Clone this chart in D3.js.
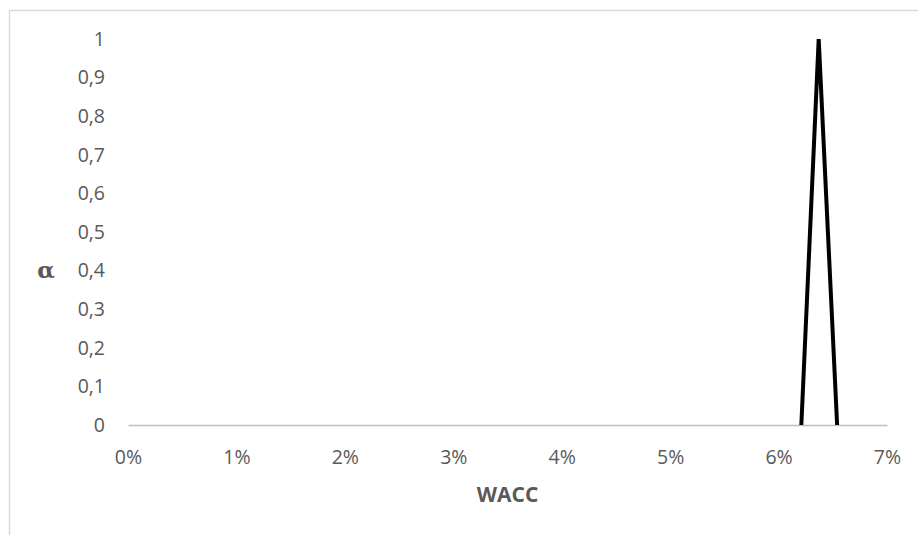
<!DOCTYPE html>
<html>
<head>
<meta charset="utf-8">
<script src="https://cdn.jsdelivr.net/npm/d3@7/dist/d3.min.js"></script>
<style>
  html, body { margin: 0; padding: 0; background: #ffffff; }
  svg { display: block; }
</style>
</head>
<body>
<svg id="chart" width="918" height="535"></svg>
<script>
// Membership function of WACC (triangular)
const waccValues = [0.0621, 0.0637, 0.0654];
const alphaValues = [0, 1, 0];

const xTicks = [0, 0.01, 0.02, 0.03, 0.04, 0.05, 0.06, 0.07];
const yTicks = [0, 0.1, 0.2, 0.3, 0.4, 0.5, 0.6, 0.7, 0.8, 0.9, 1];

const xTitle = "WACC";
const yTitle = "α";

const svg = d3.select("#chart");
const font = "'Open Sans', 'Noto Sans', sans-serif";
const textColor = "#595959";

// Chart area outline (left and top edges visible)
svg.append("rect")
  .attr("x", 9.5).attr("y", 10.5)
  .attr("width", 940).attr("height", 560)
  .attr("fill", "none")
  .attr("stroke", "#d9d9d9")
  .attr("stroke-width", 1.5);

const x = d3.scaleLinear().domain([0, 0.07]).range([128, 887]);
const y = d3.scaleLinear().domain([0, 1]).range([425, 39]);

// Category axis line along alpha = 0
const xAxis = d3.axisBottom(x)
  .tickValues(xTicks)
  .tickSize(0)
  .tickFormat(d => Math.round(d * 100) + "%");

const gx = svg.append("g")
  .attr("transform", `translate(0,${y(0)})`)
  .call(xAxis);
gx.select(".domain").attr("stroke", "#bfbfbf").attr("stroke-width", 1.5);
gx.selectAll("text")
  .attr("font-family", font)
  .attr("font-size", 19.5)
  .attr("fill", textColor)
  .attr("dy", "0.35em")
  .attr("y", 32);

// Value axis labels (no axis line)
const yAxis = d3.axisLeft(y)
  .tickValues(yTicks)
  .tickSize(0)
  .tickPadding(0)
  .tickFormat(d => d3.format(".1~f")(d).replace(".", ","));

const gy = svg.append("g")
  .attr("transform", "translate(105,0)")
  .call(yAxis);
gy.select(".domain").remove();
gy.selectAll("text")
  .attr("font-family", font)
  .attr("font-size", 19.5)
  .attr("fill", textColor)
  .attr("x", 0);

// Membership line
const points = waccValues.map((w, i) => [w, alphaValues[i]]);
const line = d3.line().x(d => x(d[0])).y(d => y(d[1]));

svg.append("path")
  .datum(points)
  .attr("d", line)
  .attr("fill", "none")
  .attr("stroke", "#000000")
  .attr("stroke-width", 4)
  .attr("stroke-linejoin", "miter");

// Axis titles
svg.append("text")
  .attr("x", (x(0) + x(0.07)) / 2)
  .attr("y", 495)
  .attr("dy", "0.35em")
  .attr("text-anchor", "middle")
  .attr("font-family", font)
  .attr("font-size", 21)
  .attr("font-weight", "bold")
  .attr("fill", textColor)
  .text(xTitle);

svg.append("text")
  .attr("x", 46)
  .attr("y", 270)
  .attr("dy", "0.35em")
  .attr("text-anchor", "middle")
  .attr("font-family", "'DejaVu Serif', serif")
  .attr("font-size", 23)
  .attr("font-weight", "bold")
  .attr("fill", textColor)
  .text(yTitle);
</script>
</body>
</html>
